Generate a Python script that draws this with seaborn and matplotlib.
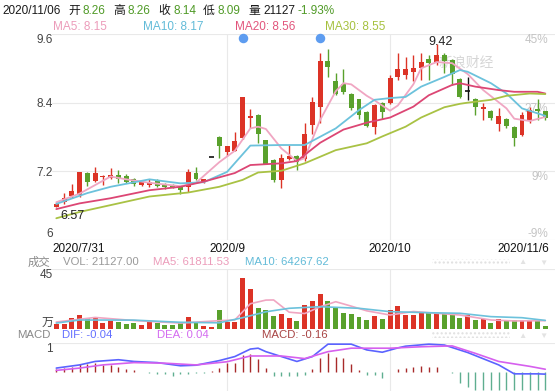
import numpy as np
import pandas as pd
import matplotlib
matplotlib.use("Agg")
import matplotlib.pyplot as plt
import matplotlib.transforms as mtransforms
from matplotlib.patches import Rectangle
import seaborn as sns

# ---------------- data ----------------
date_labels = ["2020/7/31", "2020/9", "2020/10", "2020/11/6"]
date_index = [0, 22, 43, 63]
month_lines = [22, 43]

opens = [6.58, 6.66, 6.77, 6.78, 7.17, 7.03, 7.10, 7.09, 7.13, 7.12,
         7.06, 6.96, 6.96, 7.03, 6.96, 6.96, 6.93, 6.92, 7.17, 7.02,
         7.45, 7.80, 7.54, 7.56, 7.78, 8.13, 8.18, 7.75, 7.40, 7.05,
         7.42, 7.47, 7.41, 8.01, 8.33, 9.13, 8.77, 8.73, 8.55, 8.46,
         8.24, 7.97, 8.39, 8.40, 8.85, 8.88, 8.94, 9.01, 9.16, 9.09,
         9.24, 9.15, 8.81, 8.60, 8.46, 8.29, 8.26, 8.03, 8.11, 7.98,
         7.83, 8.10, 8.29, 8.26]
highs = [6.65, 6.82, 6.98, 7.19, 7.19, 7.28, 7.14, 7.26, 7.22, 7.16,
         7.09, 7.03, 7.07, 7.07, 6.99, 6.97, 6.95, 7.24, 7.28, 7.07,
         7.45, 7.81, 7.65, 7.89, 8.50, 8.29, 8.20, 7.75, 7.41, 7.51,
         7.66, 7.49, 8.04, 8.50, 9.26, 9.33, 8.92, 8.98, 8.57, 8.47,
         8.26, 8.38, 8.41, 8.88, 9.26, 9.20, 9.23, 9.27, 9.23, 9.42,
         9.26, 9.17, 8.83, 8.85, 8.49, 8.40, 8.27, 8.31, 8.13, 8.00,
         8.23, 8.33, 8.46, 8.26]
lows = [6.57, 6.63, 6.74, 6.76, 6.95, 7.02, 6.96, 7.07, 7.00, 7.00,
        6.95, 6.94, 6.92, 6.93, 6.90, 6.91, 6.80, 6.84, 7.04, 7.00,
        7.45, 7.43, 7.46, 7.55, 7.76, 7.95, 7.70, 7.32, 7.01, 6.91,
        7.40, 7.23, 7.38, 7.86, 8.04, 8.85, 8.53, 8.55, 8.28, 8.11,
        7.98, 7.86, 8.11, 8.38, 8.80, 8.82, 8.77, 8.80, 8.80, 9.05,
        8.91, 8.71, 8.49, 8.45, 8.18, 8.10, 8.09, 7.91, 7.95, 7.65,
        7.82, 8.04, 8.10, 8.09]
closes = [6.63, 6.74, 6.85, 7.19, 7.01, 7.17, 7.12, 7.14, 7.07, 7.02,
          6.97, 7.01, 7.02, 6.95, 6.92, 6.92, 6.87, 7.18, 7.07, 7.06,
          7.45, 7.65, 7.64, 7.73, 8.50, 8.17, 7.85, 7.33, 7.05, 7.43,
          7.46, 7.37, 7.85, 8.42, 9.13, 9.02, 8.55, 8.59, 8.30, 8.18,
          7.99, 8.36, 8.24, 8.83, 8.99, 8.99, 9.01, 9.11, 9.09, 9.24,
          9.12, 8.90, 8.50, 8.60, 8.33, 8.33, 8.13, 8.17, 7.99, 7.79,
          8.18, 8.28, 8.26, 8.14]
volumes = [3.7, 3.7, 8.4, 10.4, 8.4, 8.7, 4.5, 6.2, 5.4, 3.7,
           4.7, 3.0, 6.2, 4.5, 3.2, 3.2, 4.2, 8.9, 4.2, 2.2,
           1.5, 14.1, 5.4, 5.4, 38.2, 29.8, 15.8, 14.1, 9.9, 11.2,
           8.4, 6.0, 17.9, 21.0, 26.0, 21.0, 16.3, 11.8, 11.2, 8.8,
           6.7, 10.0, 7.7, 13.8, 17.1, 10.6, 10.6, 12.9, 12.9, 11.9,
           11.3, 11.3, 8.4, 10.6, 6.7, 7.6, 4.7, 7.3, 6.1, 7.0,
           6.7, 6.7, 6.7, 2.1]  # 万

# price moving averages, read at sampled days
ma5_day = [0, 3, 5, 7, 9, 12, 16, 18, 21, 23, 25, 26, 27, 29, 31, 32, 34, 36, 37, 38,
           40, 41, 43, 44, 46, 47, 49, 51, 53, 55, 58, 59, 61, 63]
ma5_val = [6.66, 6.81, 6.96, 7.11, 7.06, 7.00, 6.94, 7.00, 7.36, 7.56, 7.95, 7.98, 7.94, 7.60,
           7.38, 7.43, 8.10, 8.60, 8.74, 8.72, 8.52, 8.44, 8.26, 8.35, 8.72, 9.00, 9.11, 9.09,
           8.90, 8.62, 8.30, 8.12, 8.08, 8.15]
ma10_day = [0, 4, 7, 12, 16, 19, 22, 25, 29, 32, 36, 39, 41, 43, 45, 47, 50, 52, 53, 56,
            58, 60, 63]
ma10_val = [6.63, 6.82, 6.93, 7.06, 6.99, 7.01, 7.19, 7.65, 7.66, 7.66, 7.95, 8.27, 8.45,
            8.48, 8.50, 8.68, 8.85, 8.97, 8.94, 8.74, 8.56, 8.30, 8.17]
ma20_day = [0, 3, 7, 12, 16, 19, 23, 25, 29, 31, 34, 37, 40, 43, 46, 48, 51, 52, 54, 57,
            59, 62, 63]
ma20_val = [6.54, 6.64, 6.73, 6.87, 6.93, 7.02, 7.17, 7.31, 7.34, 7.38, 7.70, 7.93, 8.05,
            8.14, 8.33, 8.53, 8.71, 8.74, 8.68, 8.62, 8.59, 8.59, 8.56]
ma30_day = [0, 3, 7, 12, 17, 21, 24, 26, 29, 32, 36, 40, 42, 45, 47, 50, 52, 53, 56, 58,
            61, 63]
ma30_val = [6.38, 6.49, 6.61, 6.76, 6.83, 6.93, 7.05, 7.18, 7.21, 7.34, 7.57, 7.69, 7.81,
            7.98, 8.14, 8.32, 8.38, 8.40, 8.45, 8.52, 8.56, 8.55]

# volume moving averages (万)
vma5_day = [0, 5, 10, 16, 21, 23, 25, 27, 28, 30, 32, 34, 36, 38, 40, 43, 46, 49, 52, 56, 59, 63]
vma5_val = [5.2, 8.6, 6.3, 4.4, 6.2, 6.7, 18.8, 21.5, 21.6, 12.5, 11.5, 16.5, 20.3, 17.0, 13.5,
            10.4, 13.0, 11.7, 10.4, 6.7, 6.0, 6.2]
vma10_day = [0, 3, 10, 16, 21, 24, 27, 30, 34, 39, 43, 48, 52, 56, 60, 63]
vma10_val = [4.4, 6.7, 6.6, 5.0, 4.6, 8.4, 12.8, 15.4, 16.6, 15.4, 12.9, 12.1, 11.7, 9.2, 8.4, 6.4]

# MACD
dif_day = [0, 3, 5, 8, 10, 13, 16, 18, 21, 23, 25, 26, 27, 29, 31, 33, 35, 38, 40, 42,
           44, 45, 48, 50, 53, 57, 59, 62, 63]
dif_val = [0.14, 0.25, 0.37, 0.43, 0.37, 0.33, 0.22, 0.24, 0.40, 0.54, 0.80, 0.83, 0.71, 0.54,
           0.37, 0.54, 0.97, 0.97, 0.77, 0.69, 0.84, 0.90, 0.97, 0.94, 0.68, 0.25, -0.06, -0.06,
           -0.07]
dea_day = [0, 3, 6, 10, 14, 18, 22, 25, 29, 32, 35, 38, 43, 47, 51, 54, 57, 61, 63]
dea_val = [0.06, 0.14, 0.25, 0.33, 0.31, 0.25, 0.36, 0.56, 0.56, 0.47, 0.71, 0.83, 0.83, 0.88,
           0.91, 0.65, 0.37, 0.20, 0.10]
macd_bar = [0.10, 0.14, 0.17, 0.29, 0.29, 0.31, 0.26, 0.25, 0.19, 0.12,
            0.06, 0.0, -0.02, -0.08, -0.08, -0.12, -0.08, -0.06, -0.04, -0.03,
            0.03, 0.14, 0.30, 0.33, 0.60, 0.62, 0.47, 0.16, -0.12, -0.12,
            -0.14, -0.15, -0.10, 0.10, 0.48, 0.65, 0.54, 0.48, 0.29, 0.08,
            -0.10, -0.10, -0.20, 0.0, 0.10, 0.16, 0.19, 0.22, 0.19, 0.19,
            0.0, -0.02, -0.38, -0.50, -0.62, -0.62, -0.62, -0.62, -0.62, -0.62,
            -0.62, -0.62, -0.62, -0.62]

price_ticks = [6.0, 7.2, 8.4, 9.6]
pct_labels = ["-9%", "9%", "27%", "45%"]
high_mark, low_mark = "9.42", "6.57"
event_days = [24, 34]

header = ["2020/11/06", "开", "8.26", "高", "8.26", "收", "8.14", "低", "8.09", "量", "21127", "-1.93%"]
ma_legend = ["MA5: 8.15", "MA10: 8.17", "MA20: 8.56", "MA30: 8.55"]
vol_legend = ["成交", "VOL: 21127.00", "MA5: 61811.53", "MA10: 64267.62"]
macd_legend = ["MACD", "DIF: -0.04", "DEA: 0.04", "MACD: -0.16"]

# ---------------- style ----------------
RED = "#dc3326"
GREEN = "#59a12c"
TXT_GREEN = "#4f9a26"
C_MA5, C_MA10, C_MA20, C_MA30 = "#f0a6c2", "#6cc2dc", "#dc4674", "#a9c244"
GRID = "#e9e9e9"

sns.set_theme(style="white")
plt.rcParams["font.family"] = ["Liberation Sans", "Noto Sans CJK SC", "DejaVu Sans"]

W, H = 557, 391
fig = plt.figure(figsize=(W / 100, H / 100), dpi=100)


def fx(px):
    return px / W


def fy(py):
    return 1 - py / H


def panel(top, bottom):
    a = fig.add_axes([fx(52), fy(bottom), fx(555) - fx(52), (bottom - top) / H])
    a.set_facecolor("none")
    for s in a.spines.values():
        s.set_visible(False)
    return a


ax = panel(34, 240)
axv = panel(268.5, 329)
axm = panel(343.3, 391)

df = pd.DataFrame({"open": opens, "high": highs, "low": lows, "close": closes, "vol": volumes})
df["day"] = np.arange(len(df))
df["color"] = np.where(df.close > df.open, RED, np.where(df.close < df.open, GREEN, "#111111"))
df["vcolor"] = np.where(df.close >= df.open, RED, GREEN)

# ---- candles ----
ax.vlines(df.day, df.low, df.high, colors=df.color, lw=1, zorder=3)
body = df[df.close != df.open]
ax.bar(body.day, (body.close - body.open).abs(), bottom=body[["open", "close"]].min(axis=1),
       width=0.64, color=body.color, zorder=4, linewidth=0)
flat = df[df.close == df.open]
ax.hlines(flat.close, flat.day - 0.32, flat.day + 0.32, colors="#111111", lw=1.2, zorder=4)

for d, v, c in [(ma5_day, ma5_val, C_MA5), (ma10_day, ma10_val, C_MA10),
                (ma20_day, ma20_val, C_MA20), (ma30_day, ma30_val, C_MA30)]:
    sns.lineplot(x=d, y=v, ax=ax, color=c, lw=1.3, zorder=5, legend=False)

top_tr = mtransforms.blended_transform_factory(ax.transData, ax.transAxes)
ax.scatter(event_days, [0.982] * len(event_days), s=34, color="#5d9cf0", zorder=6,
           transform=top_tr, clip_on=False)

imax = int(np.argmax(highs))
ax.annotate(high_mark, (imax, highs[imax]), xytext=(2.5, -2.5), textcoords="offset points",
            ha="center", va="bottom", fontsize=9, color="#222222", zorder=7)
imin = int(np.argmin(lows))
ax.annotate(low_mark, (imin, lows[imin]), xytext=(3, -2), textcoords="offset points",
            ha="left", va="top", fontsize=9, color="#222222", zorder=7)

ax.text(0.823, 0.86, "新浪财经", transform=ax.transAxes, ha="center", va="center",
        fontsize=10, color="#d6d6d6", style="italic", zorder=1)

ax.set_ylim(6.0, 9.6)
ax.set_yticks(price_ticks)
ax.set_yticklabels([f"{t:g}" for t in price_ticks])
ax.grid(axis="y", color=GRID, lw=0.8)
ax.tick_params(axis="y", length=0, pad=-0.7, labelsize=8.5, labelcolor="#444444")
ylabs = ax.get_yticklabels()
ylabs[0].set_va("bottom")
ylabs[-1].set_va("top")
ax.set_xticks(date_index)
ax.set_xticklabels(date_labels)
ax.tick_params(axis="x", length=0, pad=2.5, labelsize=8.5, labelcolor="#111111")
xlabs = ax.get_xticklabels()
xlabs[0].set_ha("left")
xlabs[0].set_transform(xlabs[0].get_transform() + mtransforms.ScaledTranslation(-0.035, 0, fig.dpi_scale_trans))
xlabs[-1].set_ha("right")
xlabs[-1].set_transform(xlabs[-1].get_transform() + mtransforms.ScaledTranslation(0.035, 0, fig.dpi_scale_trans))

tr = mtransforms.blended_transform_factory(ax.transAxes, ax.transData)
for p, lab in zip(price_ticks, pct_labels):
    ax.text(0.986, p, lab, transform=tr, ha="right", va="bottom" if p == price_ticks[0] else "top",
            fontsize=8.5, color="#c4c4c4", zorder=2)

# ---- volume ----
axv.bar(df.day, df.vol, width=0.64, color=df.vcolor, linewidth=0, zorder=3)
sns.lineplot(x=vma5_day, y=vma5_val, ax=axv, color=C_MA5, lw=1.2, zorder=4, legend=False)
sns.lineplot(x=vma10_day, y=vma10_val, ax=axv, color=C_MA10, lw=1.2, zorder=4, legend=False)
axv.set_ylim(0, 45)
axv.axhline(45, color=GRID, lw=0.8, zorder=0)
axv.set_yticks([0, 45])
axv.set_yticklabels(["万", "45"])
axv.tick_params(axis="y", length=0, pad=-0.7, labelsize=8.5, labelcolor="#444444")
vl = axv.get_yticklabels()
vl[0].set_va("bottom")
vl[1].set_va("top")
axv.set_xticks([])

# ---- MACD ----
bar_col = np.where(np.array(macd_bar) >= 0, "#a82a2a", "#5fae90")
axm.vlines(df.day, 0, macd_bar, colors=bar_col, lw=1, zorder=3)
sns.lineplot(x=dif_day, y=dif_val, ax=axm, color="#5b63ff", lw=1.2, zorder=4, legend=False)
sns.lineplot(x=dea_day, y=dea_val, ax=axm, color="#d660ee", lw=1.2, zorder=4, legend=False)
axm.set_ylim(-0.655, 1.0)
axm.axhline(1, color=GRID, lw=0.8, zorder=0)
axm.set_yticks([1])
axm.set_yticklabels(["1"])
axm.tick_params(axis="y", length=0, pad=-0.7, labelsize=8.5, labelcolor="#444444")
axm.get_yticklabels()[0].set_va("top")
axm.set_xticks([])

for a in (ax, axv, axm):
    a.set_xlim(-0.554, 64.25)
    a.set_xlabel("")
    a.set_ylabel("")
    for m in month_lines:
        a.axvline(m, color=GRID, lw=0.8, zorder=0)

# ---- header texts ----
hx = [2, 68, 83, 113, 128, 158, 173, 203, 218, 248, 263, 298]
hc = ["#1a1a1a", "#1a1a1a", TXT_GREEN, "#1a1a1a", TXT_GREEN, "#1a1a1a", TXT_GREEN,
      "#1a1a1a", TXT_GREEN, "#1a1a1a", "#1a1a1a", TXT_GREEN]
for s, x, c in zip(header, hx, hc):
    fig.text(fx(x), fy(11), s, color=c, fontsize=8.5, ha="left", va="center")

for s, x, c in zip(ma_legend, [53, 143, 235, 325], ["#ec9cba", "#62bbd8", "#e2557c", "#a6c13e"]):
    fig.text(fx(x), fy(27), s, color=c, fontsize=8.5, ha="left", va="center")

for s, x, c in zip(vol_legend, [28, 63, 153, 245], ["#888888", "#999999", "#ec9cba", "#62bbd8"]):
    fig.text(fx(x), fy(262), s, color=c, fontsize=8.2, ha="left", va="center")

for s, x, c in zip(macd_legend, [17, 62, 157, 262], ["#888888", "#6470ff", "#d46cf0", "#a84444"]):
    fig.text(fx(x), fy(335), s, color=c, fontsize=8.2, ha="left", va="center")

# zoom controls (greyed out)
for yc in (262, 335):
    fig.patches.append(Rectangle((fx(432), fy(yc + 3)), fx(510) - fx(432), 6 / H,
                                 transform=fig.transFigure, fill=False, hatch="....",
                                 edgecolor="#e0e0e0", lw=0))
    fig.text(fx(522), fy(yc + 1), "▲", color="#e3e3e3", fontsize=6, ha="center", va="center")
    fig.text(fx(543), fy(yc + 1), "▼", color="#e3e3e3", fontsize=6, ha="center", va="center")

fig.savefig("out.png", dpi=100)
